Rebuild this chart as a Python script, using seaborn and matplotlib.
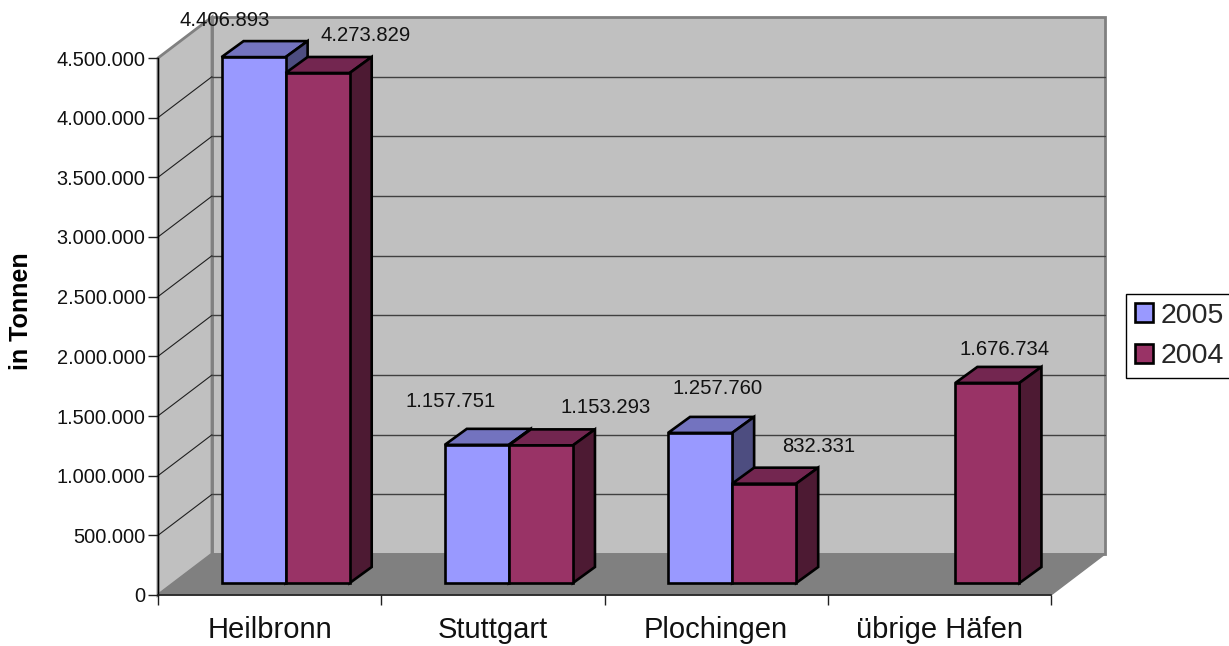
import numpy as np
import pandas as pd
import matplotlib.pyplot as plt
import seaborn as sns
from matplotlib.patches import Polygon, Patch
from matplotlib.transforms import Affine2D, IdentityTransform

categories = ['Heilbronn', 'Stuttgart', 'Plochingen', 'übrige Häfen']
values_2005 = [4406893, 1157751, 1257760, np.nan]
values_2004 = [4273829, 1153293, 832331, 1676734]
y_ticks = [0, 500000, 1000000, 1500000, 2000000, 2500000, 3000000, 3500000, 4000000, 4500000]
years = ['2005', '2004']

front = {'2005': '#9999FF', '2004': '#993366'}
top = {'2005': '#7373BF', '2004': '#732650'}
side = {'2005': '#4D4D80', '2004': '#4D1A33'}

# label offsets from the top of each bar, in pixels
label_off = {'2005': [(-29, 37), (-26, 43), (17, 44), None],
             '2004': [(48, 37), (65, 38), (55, 37), (17, 33)]}

df = pd.DataFrame({'Hafen': categories * 2,
                   'Jahr': ['2005'] * 4 + ['2004'] * 4,
                   'Tonnen': values_2005 + values_2004})

W, H = 1229, 646
sns.set_theme(style='white')
plt.rcParams['font.family'] = ['Liberation Sans']

fig = plt.figure(figsize=(W / 100, H / 100), dpi=100)
ax = fig.add_axes([158 / W, 1 - 595 / H, 893 / W, 537 / H])

sns.barplot(data=df, x='Hafen', y='Tonnen', hue='Jahr', hue_order=years, palette=front, saturation=1,
            width=0.574, gap=0, edgecolor='black', linewidth=1.9, legend=False, ax=ax)
ax.set_xlim(-0.5, 3.5)
ax.set_ylim(0, 4500000)
ax.patch.set_alpha(0)

# depth of the box and of the bars, in pixels
wall_dx, wall_dy = 54, 41
bar_dx, bar_dy = 16, 12
depth_dx, depth_dy = 22, 16


def pts(x, y, dx=0, dy=0):
    p = ax.transData.transform((x, y))
    return (p[0] + dx, p[1] + dy)


def poly(points, **kw):
    ax.add_patch(Polygon(points, closed=True, transform=IdentityTransform(), clip_on=False, **kw))


x0, x1 = ax.get_xlim()
ymax = y_ticks[-1]
wall_line = dict(edgecolor='#808080', linewidth=2)
# back wall, left wall, floor
poly([pts(x0, 0, wall_dx, wall_dy), pts(x1, 0, wall_dx, wall_dy),
      pts(x1, ymax, wall_dx, wall_dy), pts(x0, ymax, wall_dx, wall_dy)],
     facecolor='#C0C0C0', zorder=0.2, **wall_line)
poly([pts(x0, 0), pts(x0, 0, wall_dx, wall_dy), pts(x0, ymax, wall_dx, wall_dy), pts(x0, ymax)],
     facecolor='#C0C0C0', zorder=0.3, **wall_line)
poly([pts(x0, 0), pts(x1, 0), pts(x1, 0, wall_dx, wall_dy), pts(x0, 0, wall_dx, wall_dy)],
     facecolor='#808080', zorder=0.4, edgecolor='#808080', linewidth=1)

# gridlines
for t in y_ticks[1:-1]:
    a, b, c = pts(x0, t), pts(x0, t, wall_dx, wall_dy), pts(x1, t, wall_dx, wall_dy)
    ax.plot([a[0], b[0]], [a[1], b[1]], color='#202020', lw=0.8, transform=IdentityTransform(),
            clip_on=False, zorder=0.5)
    ax.plot([b[0], c[0]], [b[1], c[1]], color='#404040', lw=1.0, transform=IdentityTransform(),
            clip_on=False, zorder=0.5)

# bars: front face comes from seaborn, side and top are built on it
shift = ax.transData + Affine2D().translate(bar_dx, bar_dy)
for i, (year, cont) in enumerate(zip(years, ax.containers)):
    z = 3 + 2 * i
    offs = [o for o in label_off[year] if o is not None]
    for bar, off in zip([b for b in cont if b.get_height() > 0], offs):
        bar.set_transform(shift)
        bar.set_zorder(z)
        bar.set_clip_on(False)
        bar.set_joinstyle('miter')
        l, r, h = bar.get_x(), bar.get_x() + bar.get_width(), bar.get_height()
        dx, dy = bar_dx, bar_dy
        face_style = dict(edgecolor='black', linewidth=1.9, zorder=z - 0.5, joinstyle='miter')
        poly([pts(l, h, dx, dy), pts(r, h, dx, dy), pts(r, h, dx + depth_dx, dy + depth_dy),
              pts(l, h, dx + depth_dx, dy + depth_dy)], facecolor=top[year], **face_style)
        poly([pts(r, 0, dx, dy), pts(r, 0, dx + depth_dx, dy + depth_dy),
              pts(r, h, dx + depth_dx, dy + depth_dy), pts(r, h, dx, dy)], facecolor=side[year], **face_style)
        ax.annotate(f'{int(h):,}'.replace(',', '.'), xy=((l + r) / 2, h), xycoords='data',
                    xytext=(bar_dx + off[0], bar_dy + off[1]), textcoords='offset pixels',
                    ha='center', va='center', fontsize=14.6, color='#111111',
                    annotation_clip=False, zorder=10)

# axes
for s in ['top', 'right']:
    ax.spines[s].set_visible(False)
ax.spines['left'].set_color('black')
ax.spines['left'].set_linewidth(1.0)
ax.spines['bottom'].set_color('#202020')
ax.spines['bottom'].set_linewidth(1.2)
ax.set_yticks(y_ticks)
ax.set_yticklabels([f'{t:,}'.replace(',', '.') for t in y_ticks], fontsize=14.4, color='#111111')
ax.tick_params(axis='y', left=True, length=7, width=1, pad=2, color='#202020')
ax.set_xticks(np.arange(-0.5, 4, 1))
ax.set_xticklabels([])
ax.set_xticks(np.arange(4), labels=categories, minor=True)
ax.tick_params(axis='x', which='major', bottom=True, length=7, width=1, color='#202020')
ax.tick_params(axis='x', which='minor', bottom=False, length=0, pad=15, labelsize=21, labelcolor='#111111')
ax.set_xlabel('')
ax.set_ylabel('in Tonnen', fontsize=18, fontweight='bold', color='black')
ax.yaxis.set_label_coords(-125.5 / 893, 0.529)

handles = [Patch(facecolor=front[y], edgecolor='black', linewidth=1.9, label=y) for y in years]
leg = ax.legend(handles=handles, loc='upper left', bbox_to_anchor=(1126 / W, 1 - 294 / H),
                bbox_transform=fig.transFigure, fontsize=20.5, frameon=True, fancybox=False,
                edgecolor='black', framealpha=1, handlelength=0.65, handleheight=0.65,
                handletextpad=0.25, labelspacing=0.52, borderpad=0.3, borderaxespad=0)
leg.get_frame().set_linewidth(1)

fig.savefig('out.png')
